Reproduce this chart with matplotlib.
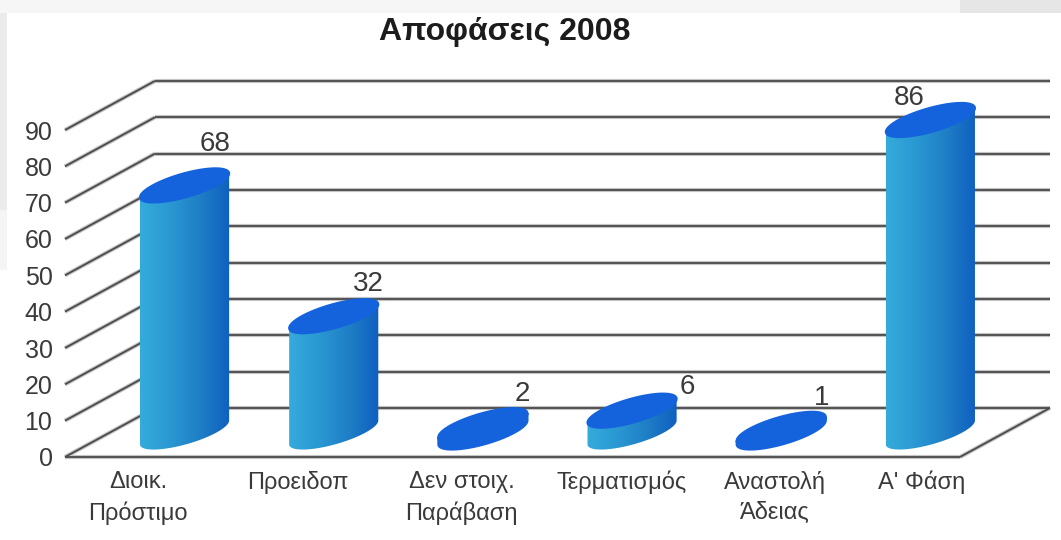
import numpy as np
import matplotlib
matplotlib.use('Agg')
import matplotlib.pyplot as plt
from matplotlib.colors import LinearSegmentedColormap
from matplotlib.patches import Polygon, Rectangle

plt.rcParams['font.family'] = ['Liberation Sans', 'DejaVu Sans']

# ── Data ──────────────────────────────────────────────────────────────────────

categories = ['Διοικ.\nΠρόστιμο', 'Προειδοπ', 'Δεν στοιχ.\nΠαράβαση',
              'Τερματισμός', 'Αναστολή\nΆδειας', "Α' Φάση"]
values = [68, 32, 2, 6, 1, 86]
y_ticks = [0, 10, 20, 30, 40, 50, 60, 70, 80, 90]
title = 'Αποφάσεις 2008'

# ── Style ─────────────────────────────────────────────────────────────────────

W, H = 1061, 540
LINE = '#4a4a4a'
HALO = '#c4c4c4'
TOP_COLOR = '#1463dc'
TEXT = '#3a3a3a'

# oblique depth of the box, in data units (categories / value units)
DEPTH_X, DEPTH_Y = 0.603, 13.5
# cylinder ellipse axes
AX, BX, BY = 0.2145, 0.208, 4.7
# axes run past the front plane so the cylinders are not cut by the image clip
Y_TOP = 110
X_EXTRA = 1

# nudges for the labels: value labels in px from the top centre, category in x units
VALUE_NUDGE = [(31, 41), (35, 32), (39, 31), (55, 24), (40, 31), (-21, 22)]
LABEL_X = [0.49, 1.56, 2.66, 3.73, 4.76, 5.74]

side_cmap = LinearSegmentedColormap.from_list(
    'side', ['#35abdc', '#2a98d2', '#1f7fc6', '#0f60c0'])

n = len(categories)

fig = plt.figure(figsize=(W / 100, H / 100), dpi=100, facecolor='white')

# washed-out slide background showing round the picture
for x0, y0, w, h, c in [(0, 527, 1061, 13, '#f6f6f6'), (960, 527, 101, 13, '#e6e6e6'),
                        (0, 330, 7, 197, '#ebebeb'), (0, 270, 7, 60, '#f5f5f5')]:
    fig.patches.append(Rectangle((x0 / W, y0 / H), w / W, h / H, color=c, lw=0,
                                 transform=fig.transFigure, figure=fig))

ax = fig.add_axes([65 / W, (H - 457) / H, (895 * (n + X_EXTRA) / n) / W, (327 * Y_TOP / 90) / H])
ax.patch.set_alpha(0)
for s in ax.spines.values():
    s.set_visible(False)


def guide(xs, ys, z=1):
    ax.plot(xs, ys, color=HALO, lw=3.0, zorder=z, clip_on=False, solid_capstyle='butt')
    ax.plot(xs, ys, color=LINE, lw=1.3, zorder=z + 0.1, clip_on=False, solid_capstyle='butt')


# box: back wall lines and left wall diagonals
for t in y_ticks:
    guide([DEPTH_X, n + DEPTH_X], [t + DEPTH_Y, t + DEPTH_Y])
    guide([0, DEPTH_X], [t, t + DEPTH_Y])
guide([0, n], [0, 0])
guide([n, n + DEPTH_X], [0, DEPTH_Y])

# cylinders
t_right = np.arctan2(BX, AX)
for i, v in enumerate(values):
    cx = i + 0.5 + DEPTH_X / 2
    cy = DEPTH_Y / 2

    front = np.linspace(t_right - np.pi, t_right, 60)
    fx = cx + AX * np.cos(front) + BX * np.sin(front)
    fy = BY * np.sin(front)
    body = np.vstack([np.column_stack([fx, cy + fy]),
                      np.column_stack([fx[::-1], cy + v + fy[::-1]])])

    if v >= 5:
        patch = Polygon(body, closed=True, fc='none', ec='none', zorder=3)
        ax.add_patch(patch)
        grad = np.linspace(0, 1, 128).reshape(1, -1)
        im = ax.imshow(grad, cmap=side_cmap, aspect='auto', zorder=3,
                       extent=[fx.min(), fx.max(), cy - BY, cy + v + BY])
        im.set_clip_path(patch)
    else:
        ax.add_patch(Polygon(body, closed=True, fc=TOP_COLOR, ec=TOP_COLOR, lw=1.5, zorder=3))

    tt = np.linspace(0, 2 * np.pi, 120)
    top = np.column_stack([cx + AX * np.cos(tt) + BX * np.sin(tt),
                           cy + v + BY * np.sin(tt)])
    ax.add_patch(Polygon(top, closed=True, fc=TOP_COLOR, ec=TOP_COLOR, lw=1.5, zorder=4,
                         joinstyle='round'))

    dx, dy = VALUE_NUDGE[i]
    ax.annotate(str(v), (cx, cy + v), xytext=(dx * 0.72, dy * 0.72),
                textcoords='offset points', ha='center', va='center',
                fontsize=20, color=TEXT, zorder=6, annotation_clip=False)

ax.set_xlim(0, n + X_EXTRA)
ax.set_ylim(0, Y_TOP)

ax.set_yticks(y_ticks)
ax.set_yticklabels([str(t) for t in y_ticks], fontsize=18, color=TEXT)
ax.set_xticks(LABEL_X)
ax.set_xticklabels(categories, fontsize=17, color=TEXT, linespacing=1.45)
ax.tick_params(axis='y', length=0, pad=9)
ax.tick_params(axis='x', length=0, pad=10)

fig.text(505 / W, (H - 32) / H, title, ha='center', va='center',
         fontsize=23, fontweight='bold', color='#1c1c1c')

fig.savefig('out.png', dpi=100, facecolor=fig.get_facecolor())
